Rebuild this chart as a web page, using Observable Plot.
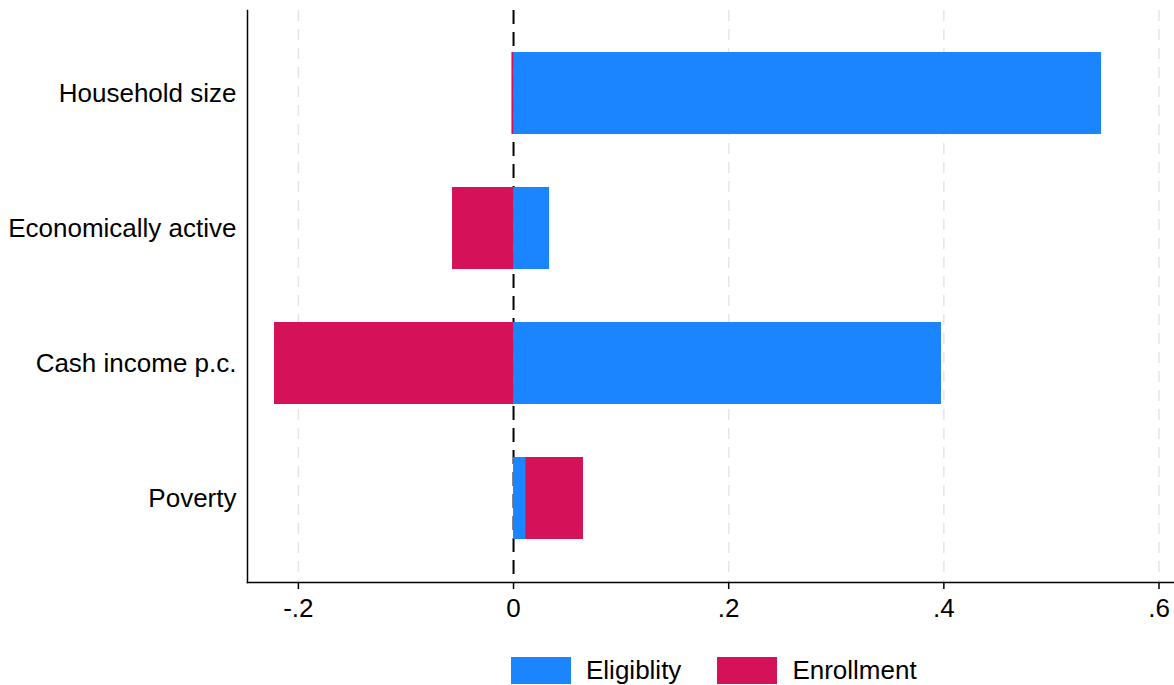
<!DOCTYPE html>
<html>
<head>
<meta charset="utf-8">
<script src="https://cdn.jsdelivr.net/npm/d3@7"></script>
<script src="https://cdn.jsdelivr.net/npm/@observablehq/plot@0.6"></script>
<style>
  html, body { margin: 0; padding: 0; background: white; }
  body { width: 1174px; height: 685px; overflow: hidden; font-family: "Liberation Sans", Arial, sans-serif; }
  #legend { display: flex; align-items: center; margin-top: 16px; padding-left: 511px; font-size: 26px; line-height: 28px; color: black; }
  .sw { width: 60px; height: 27px; margin-right: 15px; }
  .item { display: flex; align-items: center; margin-right: 36px; }
</style>
</head>
<body>
<div id="chart"></div>
<div id="legend"></div>
<script>
const categories = ["Household size", "Economically active", "Cash income p.c.", "Poverty"];
const seriesNames = ["Eligiblity", "Enrollment"];
const eligibility = [0.5466, 0.0335, 0.3978, 0.0112];
const enrollment = [-0.0015, -0.0567, -0.2222, 0.0538];
const tickValues = [-0.2, 0, 0.2, 0.4, 0.6];
const tickLabels = ["-.2", "0", ".2", ".4", ".6"];
const gridValues = [-0.2, 0.2, 0.4, 0.6];
const colors = ["#1A85FF", "#D41159"];

const data = [];
categories.forEach((c, i) => {
  data.push({category: c, series: seriesNames[0], value: eligibility[i]});
  data.push({category: c, series: seriesNames[1], value: enrollment[i]});
});

const chart = Plot.plot({
  width: 1174,
  height: 640,
  marginLeft: 247,
  marginRight: 0,
  marginTop: 10,
  marginBottom: 58,
  style: {fontFamily: '"Liberation Sans", Arial, sans-serif', fontSize: "26px", color: "black", background: "white"},
  x: {domain: [-0.2473, 0.6144], label: null},
  y: {domain: categories, range: [24.75, 566.75], paddingInner: 0.395, paddingOuter: 0.1975, label: null},
  color: {domain: seriesNames, range: colors},
  marks: [
    Plot.gridX(gridValues, {stroke: "#e6e6e6", strokeOpacity: 1, strokeWidth: 1.5, strokeDasharray: "11,8"}),
    Plot.ruleX([0], {stroke: "black", strokeWidth: 2, strokeDasharray: "14,8"}),
    Plot.barX(data, {x: "value", y: "category", fill: "series"}),
    Plot.axisX({ticks: tickValues, tickFormat: (d) => tickLabels[tickValues.indexOf(d)], tickSize: 7, tickPadding: 9, stroke: "black", strokeWidth: 1.5, label: null}),
    Plot.axisY({tickSize: 0, tickPadding: 11, label: null}),
    Plot.frame({anchor: "left", stroke: "black", strokeWidth: 1.5}),
    Plot.frame({anchor: "bottom", stroke: "black", strokeWidth: 1.5})
  ]
});
document.getElementById("chart").appendChild(chart);

const legend = document.getElementById("legend");
seriesNames.forEach((name, i) => {
  const item = document.createElement("div");
  item.className = "item";
  const sw = document.createElement("div");
  sw.className = "sw";
  sw.style.background = colors[i];
  const label = document.createElement("span");
  label.textContent = name;
  item.appendChild(sw);
  item.appendChild(label);
  legend.appendChild(item);
});
</script>
</body>
</html>
